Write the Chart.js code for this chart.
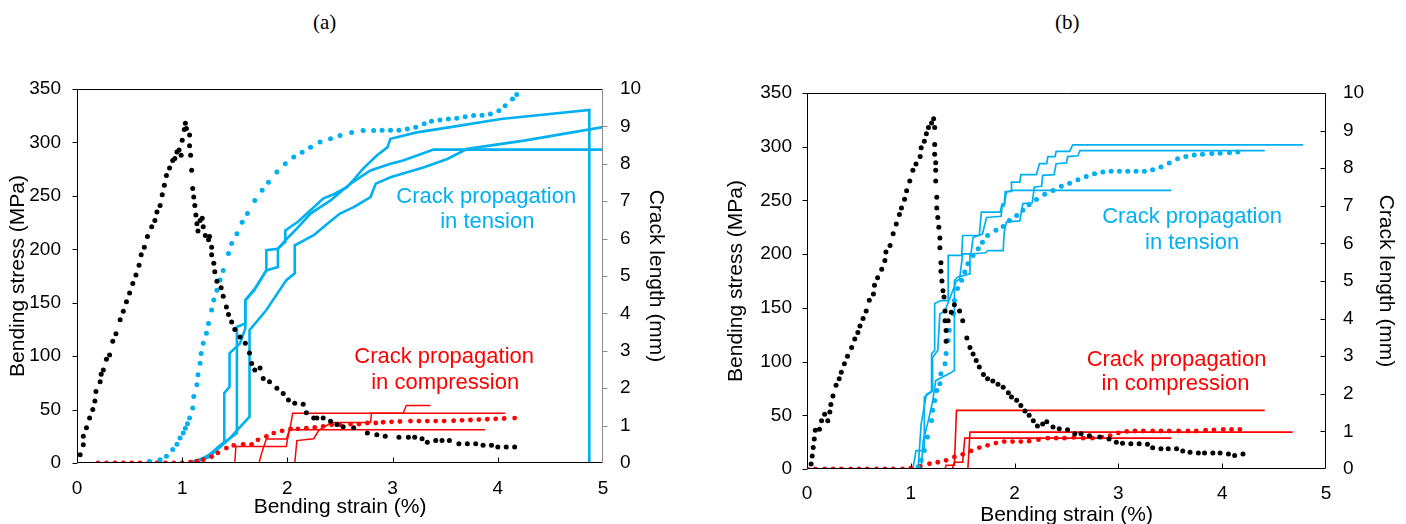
<!DOCTYPE html>
<html>
<head>
<meta charset="utf-8">
<script src="https://cdn.jsdelivr.net/npm/chart.js@4.4.0/dist/chart.umd.min.js"></script>
<style>
body { margin: 0; background: #fff; width: 1406px; height: 524px; overflow: hidden; position: relative; }
canvas { position: absolute; top: 0; }
#chartA { left: 0; }
#chartB { left: 703px; }
.panel { position: absolute; top: 10px; font: 21px "Liberation Serif", "Times New Roman", serif; line-height: 24px; }
</style>
</head>
<body>
<div class="panel" style="left:313px">(a)</div>
<div class="panel" style="left:1055px">(b)</div>
<canvas id="chartA" width="703" height="524"></canvas>
<canvas id="chartB" width="703" height="524"></canvas>
<script>
// ---- panel (a) ----  [strain %, value]
const aStress = [[0.03,7.8],[0.06,17],[0.06,25],[0.09,33],[0.12,42],[0.15,50],[0.17,58],[0.18,67],[0.22,76],[0.23,83],[0.25,87],[0.28,97],[0.31,101],[0.34,114],[0.37,121],[0.41,134],[0.44,142],[0.47,151],[0.50,159],[0.53,168],[0.56,176],[0.59,185],[0.61,195],[0.64,202],[0.67,212],[0.71,221],[0.74,227],[0.76,235],[0.79,241],[0.81,251],[0.83,260],[0.85,269],[0.88,276],[0.91,283],[0.93,285],[0.95,291],[0.97,293],[0.99,288],[1.00,302],[1.02,312],[1.03,318],[1.04,313],[1.07,307],[1.07,297],[1.08,288],[1.09,274],[1.10,257],[1.11,249],[1.12,241],[1.13,232],[1.14,224],[1.15,217],[1.17,227],[1.19,229],[1.20,221],[1.22,213],[1.25,209],[1.26,212],[1.28,202],[1.28,195],[1.30,187],[1.31,179],[1.33,170],[1.37,164],[1.39,156],[1.42,146],[1.44,139],[1.47,132],[1.50,125],[1.55,118],[1.60,112],[1.64,103],[1.66,93],[1.69,87],[1.74,89],[1.77,79],[1.83,76],[1.90,70],[1.96,65],[2.01,59],[2.07,56],[2.15,55],[2.18,47],[2.25,42],[2.28,42],[2.34,42],[2.41,39],[2.47,36],[2.53,34],[2.63,33],[2.76,28],[2.85,26.5],[2.93,25],[3.06,24],[3.15,24],[3.21,24],[3.28,22.6],[3.33,19.5],[3.41,21],[3.47,21],[3.54,21],[3.63,18],[3.71,18],[3.79,18],[3.86,16.5],[3.94,16.5],[4.00,15],[4.08,15],[4.16,15]];
const aCrackTensionAvg = [[0.69,0.04],[0.79,0.09],[0.85,0.18],[0.91,0.36],[0.95,0.5],[0.98,0.67],[1.01,0.8],[1.03,0.93],[1.05,1.05],[1.07,1.2],[1.10,1.47],[1.11,1.78],[1.14,2.09],[1.15,2.36],[1.17,2.67],[1.18,2.93],[1.20,3.2],[1.23,3.47],[1.25,3.73],[1.28,4.09],[1.30,4.36],[1.33,4.62],[1.36,4.89],[1.39,5.15],[1.44,5.6],[1.47,5.87],[1.52,6.13],[1.57,6.44],[1.62,6.67],[1.69,7.02],[1.76,7.29],[1.82,7.51],[1.90,7.78],[1.98,8.0],[2.06,8.18],[2.14,8.31],[2.22,8.44],[2.31,8.58],[2.41,8.67],[2.50,8.76],[2.61,8.84],[2.72,8.89],[2.82,8.89],[2.90,8.9],[2.98,8.9],[3.06,8.9],[3.14,8.93],[3.22,8.98],[3.30,9.07],[3.37,9.14],[3.45,9.17],[3.53,9.2],[3.61,9.22],[3.69,9.26],[3.77,9.29],[3.85,9.3],[3.93,9.33],[4.01,9.42],[4.07,9.55],[4.14,9.73],[4.18,9.85]];
const aCrackCompAvg = [[0.2,0],[0.28,0],[0.36,0],[0.44,0],[0.52,0],[0.6,0],[0.68,0],[0.76,0],[0.84,0],[0.92,0],[1.0,0],[1.08,0.02],[1.14,0.05],[1.2,0.09],[1.28,0.17],[1.34,0.27],[1.42,0.4],[1.49,0.47],[1.58,0.5],[1.66,0.5],[1.72,0.62],[1.80,0.71],[1.87,0.8],[1.95,0.86],[2.03,0.91],[2.10,0.91],[2.18,0.93],[2.26,0.95],[2.34,0.98],[2.42,1.02],[2.50,1.02],[2.60,1.04],[2.68,1.04],[2.76,1.07],[2.84,1.07],[2.91,1.09],[2.99,1.1],[3.07,1.11],[3.17,1.12],[3.25,1.12],[3.33,1.12],[3.41,1.12],[3.49,1.12],[3.58,1.13],[3.66,1.14],[3.74,1.15],[3.82,1.16],[3.90,1.17],[3.98,1.18],[4.06,1.19],[4.16,1.2]];
const aTension1 = [[1.05,0],[1.2,0.12],[1.3,0.3],[1.38,0.5],[1.40,0.55],[1.40,1.87],[1.45,2.04],[1.45,2.93],[1.55,3.2],[1.60,3.6],[1.60,4.35],[1.70,4.7],[1.80,5.15],[1.80,5.69],[1.91,5.73],[1.98,5.91],[1.98,6.22],[2.1,6.45],[2.22,6.76],[2.34,7.07],[2.45,7.2],[2.57,7.38],[2.72,7.87],[2.85,8.22],[2.95,8.44],[2.98,8.67],[3.23,8.84],[3.55,8.98],[4.03,9.2],[4.87,9.44],[4.87,0]];
const aTension2 = [[1.1,0],[1.25,0.2],[1.35,0.45],[1.52,0.8],[1.52,3.64],[1.60,3.73],[1.60,4.35],[1.68,4.6],[1.80,5.15],[1.91,5.24],[1.91,5.73],[1.98,5.95],[2.1,6.3],[2.22,6.67],[2.41,7.02],[2.60,7.47],[2.79,7.82],[2.98,8.0],[3.1,8.09],[3.39,8.38],[5.0,8.38]];
const aTension3 = [[1.1,0],[1.25,0.15],[1.35,0.4],[1.45,0.65],[1.64,1.24],[1.64,3.55],[1.80,4.09],[1.99,4.89],[2.07,5.07],[2.07,5.82],[2.25,6.09],[2.38,6.4],[2.50,6.67],[2.63,6.84],[2.79,7.11],[2.84,7.47],[2.98,7.64],[3.30,7.91],[3.52,8.13],[3.71,8.4],[4.25,8.62],[5.0,8.98]];
const aComp1 = [[1.15,0],[1.50,0],[1.51,0.44],[1.99,0.44],[2.0,0.62],[2.03,1.0],[2.05,1.33],[4.07,1.33]];
const aComp2 = [[1.3,0],[1.73,0],[1.76,0.31],[1.80,0.64],[1.99,0.64],[2.02,0.89],[3.88,0.89]];
const aComp3 = [[1.5,0],[2.07,0],[2.09,0.6],[2.25,0.65],[2.30,0.88],[2.42,1.08],[2.79,1.08],[2.80,1.33],[3.10,1.33],[3.13,1.54],[3.36,1.54]];

// ---- panel (b) ----
const bStress = [[0.04,4.7],[0.05,12],[0.06,20],[0.07,28],[0.08,36],[0.12,37],[0.14,45],[0.17,51],[0.20,45],[0.22,53],[0.23,60],[0.25,68],[0.28,78],[0.31,84],[0.33,90],[0.36,98],[0.39,105],[0.43,113],[0.46,121],[0.49,127],[0.51,133],[0.54,140],[0.57,147],[0.60,157],[0.64,163],[0.65,171],[0.68,178],[0.72,186],[0.75,194],[0.76,202],[0.80,208],[0.83,219],[0.86,228],[0.89,237],[0.91,243],[0.94,251],[0.96,259],[0.99,268],[1.02,278],[1.05,284],[1.09,291],[1.10,299],[1.13,305],[1.15,312],[1.17,318],[1.20,322],[1.22,326],[1.23,318],[1.23,302],[1.23,293],[1.24,285],[1.24,278],[1.24,268],[1.25,253],[1.25,243],[1.26,234],[1.27,225],[1.28,215],[1.28,206],[1.29,192],[1.29,184],[1.30,175],[1.31,166],[1.32,160],[1.33,147],[1.33,138],[1.34,129],[1.34,119],[1.36,138],[1.39,146],[1.42,153],[1.47,147],[1.50,138],[1.54,122],[1.57,113],[1.60,107],[1.63,101],[1.66,95],[1.70,88],[1.74,84],[1.79,82],[1.84,79],[1.89,76],[1.94,71],[1.97,67],[2.02,64],[2.06,59],[2.10,54],[2.14,50],[2.18,45],[2.22,40],[2.27,42],[2.31,44],[2.37,39],[2.43,37.5],[2.51,36.5],[2.58,32.8],[2.64,32.8],[2.72,31],[2.82,29.7],[2.91,28],[2.98,25],[3.04,24],[3.12,23.5],[3.20,23.5],[3.28,23],[3.33,19.7],[3.41,18.8],[3.48,18.8],[3.56,18.8],[3.62,16.7],[3.69,15.7],[3.77,15],[3.83,15],[3.91,15],[3.98,15],[4.06,14],[4.12,12.6],[4.20,14]];
const bCrackTensionAvg = [[1.07,0.05],[1.10,0.23],[1.13,0.49],[1.16,0.85],[1.20,1.29],[1.21,1.56],[1.23,1.82],[1.25,2.09],[1.28,2.27],[1.29,2.53],[1.33,2.8],[1.34,3.07],[1.36,3.42],[1.37,3.69],[1.41,4.13],[1.42,4.48],[1.45,4.8],[1.49,5.02],[1.52,5.24],[1.55,5.46],[1.60,5.68],[1.65,5.86],[1.69,6.03],[1.74,6.21],[1.82,6.35],[1.89,6.45],[1.95,6.61],[2.02,6.74],[2.08,6.88],[2.14,7.03],[2.21,7.17],[2.29,7.31],[2.37,7.41],[2.45,7.52],[2.53,7.6],[2.61,7.69],[2.69,7.78],[2.77,7.85],[2.85,7.9],[2.93,7.92],[3.01,7.92],[3.09,7.92],[3.17,7.92],[3.25,7.92],[3.33,7.96],[3.41,8.03],[3.49,8.14],[3.57,8.25],[3.65,8.31],[3.73,8.35],[3.81,8.37],[3.90,8.39],[3.98,8.4],[4.07,8.41],[4.15,8.43]];
const bCrackCompAvg = [[0,0],[0.08,0],[0.17,0],[0.25,0],[0.33,0],[0.42,0],[0.5,0],[0.58,0],[0.67,0],[0.75,0],[0.83,0],[0.92,0],[1.0,0.02],[1.09,0.07],[1.18,0.14],[1.26,0.18],[1.34,0.23],[1.42,0.32],[1.50,0.39],[1.58,0.48],[1.66,0.57],[1.74,0.63],[1.82,0.69],[1.90,0.73],[1.98,0.73],[2.06,0.73],[2.14,0.74],[2.23,0.78],[2.32,0.82],[2.40,0.82],[2.48,0.82],[2.57,0.84],[2.66,0.82],[2.75,0.82],[2.84,0.85],[2.92,0.89],[3.0,0.96],[3.08,1.0],[3.16,1.01],[3.24,1.01],[3.33,1.01],[3.41,1.01],[3.49,1.01],[3.58,1.01],[3.67,1.01],[3.75,1.01],[3.84,1.03],[3.92,1.04],[4.01,1.05],[4.09,1.05],[4.17,1.05]];
const bTension1 = [[1.02,0],[1.05,0.49],[1.13,0.49],[1.13,1.91],[1.20,2.05],[1.20,3.07],[1.23,3.15],[1.23,4.4],[1.29,4.48],[1.36,4.48],[1.36,5.68],[1.49,5.68],[1.50,6.21],[1.66,6.21],[1.68,6.83],[1.86,6.83],[1.88,7.05],[1.90,7.05],[1.91,7.38],[1.97,7.38],[1.97,7.63],[2.05,7.63],[2.06,7.83],[2.21,7.83],[2.24,8.12],[2.31,8.12],[2.32,8.31],[2.39,8.31],[2.40,8.45],[2.53,8.45],[2.56,8.62],[4.78,8.62]];
const bTension2 = [[1.07,0],[1.10,1.2],[1.15,1.99],[1.21,2.08],[1.21,2.97],[1.26,3.15],[1.28,4.12],[1.33,4.21],[1.44,5.0],[1.47,5.05],[1.50,5.72],[1.58,5.72],[1.60,6.16],[1.69,6.25],[1.73,6.69],[1.87,6.72],[1.88,7.0],[1.90,7.0],[1.92,7.36],[1.98,7.41],[3.51,7.41]];
const bTension3 = [[1.10,0],[1.12,0.76],[1.17,1.3],[1.21,1.8],[1.24,2.35],[1.38,2.55],[1.42,2.62],[1.42,5.01],[1.45,5.1],[1.57,5.19],[1.57,5.72],[1.72,5.75],[1.74,5.81],[1.89,5.81],[1.90,6.3],[1.92,6.57],[2.05,6.6],[2.08,7.06],[2.17,7.08],[2.19,7.5],[2.26,7.52],[2.27,7.81],[2.38,7.83],[2.40,8.12],[2.50,8.14],[2.51,8.31],[2.61,8.33],[2.63,8.47],[4.41,8.47]];
const bComp1 = [[1.0,0],[1.33,0],[1.34,0.1],[1.42,0.1],[1.44,1.56],[4.41,1.56]];
const bComp2 = [[1.2,0],[1.55,0],[1.57,0.98],[4.68,0.98]];
const bComp3 = [[1.4,0],[1.42,0.18],[1.50,0.18],[1.52,0.82],[3.51,0.82]];

const xTicks = [0, 1, 2, 3, 4, 5];
const stressTicks = [0, 50, 100, 150, 200, 250, 300, 350];
const crackTicks = [0, 1, 2, 3, 4, 5, 6, 7, 8, 9, 10];

const BLUE = '#00b0f0';
const RED = '#ff0000';

Chart.defaults.font.family = '"Liberation Sans", Arial, sans-serif';
Chart.defaults.color = '#000';

const pts = arr => arr.map(p => ({ x: p[0], y: p[1] }));

function dots(arr, color, axis, r, order) {
    return { data: pts(arr), yAxisID: axis, showLine: false, pointRadius: r, pointBorderWidth: 0,
        pointBackgroundColor: color, pointHoverRadius: r, order: order };
}
function line(arr, color, w) {
    return { data: pts(arr), yAxisID: 'y2', showLine: true, borderColor: color, borderWidth: w,
        pointRadius: 0, fill: false, tension: 0, order: 2 };
}

// frame, small tick marks and the two notes
const framePlugin = {
    id: 'frame',
    afterDatasetsDraw(chart, args, o) {
        const { ctx, chartArea: a, scales } = chart;
        ctx.save();
        ctx.lineWidth = 1;
        const L = Math.round(a.left) + 0.5, R = Math.round(a.right) - 0.5;
        const T = Math.round(a.top) + 0.5, B = Math.round(a.bottom) - 0.5;
        ctx.strokeStyle = '#000';
        ctx.beginPath();
        ctx.moveTo(R, B); ctx.lineTo(L, B); ctx.lineTo(L, T); ctx.lineTo(R, T);
        ctx.stroke();
        ctx.strokeStyle = o.rightColor;
        ctx.beginPath(); ctx.moveTo(R, T); ctx.lineTo(R, B); ctx.stroke();

        ctx.beginPath();
        ctx.strokeStyle = '#000';
        stressTicks.forEach(v => {
            const y = Math.round(scales.y.getPixelForValue(v)) + 0.5;
            ctx.moveTo(L - 5, y); ctx.lineTo(L, y);
        });
        xTicks.slice(1, -1).forEach(v => {
            const x = Math.round(scales.x.getPixelForValue(v)) + 0.5;
            ctx.moveTo(x, B); ctx.lineTo(x, B - 5);
        });
        ctx.stroke();
        ctx.beginPath();
        ctx.strokeStyle = o.rightColor;
        crackTicks.slice(1, -1).forEach(v => {
            const y = Math.round(scales.y2.getPixelForValue(v)) + 0.5;
            ctx.moveTo(R, y); ctx.lineTo(o.rightTicksIn ? R - 5 : R + 5, y);
        });
        ctx.stroke();

        ctx.font = '22px "Liberation Sans", Arial, sans-serif';
        ctx.textAlign = 'center';
        ctx.textBaseline = 'middle';
        o.notes.forEach(n => {
            ctx.fillStyle = n.color;
            ctx.fillText(n.text, scales.x.getPixelForValue(n.x), scales.y2.getPixelForValue(n.y));
        });
        ctx.restore();
    }
};

function makeChart(id, d, lay) {
    const ctx = document.getElementById(id).getContext('2d');
    // eslint-disable-next-line no-undef
    return new Chart(ctx, {
        type: 'scatter',
        data: { datasets: d.sets },
        options: {
            responsive: false,
            animation: false,
            devicePixelRatio: 1,
            layout: { padding: { top: lay.top, left: 0, right: 0, bottom: 0 } },
            plugins: {
                legend: { display: false },
                tooltip: { enabled: false },
                frame: { rightColor: lay.rightColor, rightTicksIn: lay.rightTicksIn, notes: d.notes }
            },
            scales: {
                x: {
                    type: 'linear', min: 0, max: 5,
                    afterBuildTicks: s => { s.ticks = xTicks.map(v => ({ value: v })); },
                    ticks: { font: { size: 19 }, padding: lay.xPad, maxRotation: 0 },
                    grid: { display: false, drawTicks: false }, border: { display: false },
                    title: { display: true, text: 'Bending strain (%)', font: { size: 21 }, padding: { top: 0, bottom: lay.xTitlePad } },
                    afterFit: s => { s.height = lay.xH; }
                },
                y: {
                    type: 'linear', position: 'left', min: 0, max: 350,
                    afterBuildTicks: s => { s.ticks = stressTicks.map(v => ({ value: v })); },
                    ticks: { font: { size: 19 }, padding: lay.yPad },
                    grid: { display: false, drawTicks: false }, border: { display: false },
                    title: { display: true, text: 'Bending stress (MPa)', font: { size: 21 }, padding: { top: lay.yTitlePad, bottom: 0 } },
                    afterFit: s => { s.width = lay.yW; }
                },
                y2: {
                    type: 'linear', position: 'right', min: 0, max: 10,
                    afterBuildTicks: s => { s.ticks = crackTicks.map(v => ({ value: v })); },
                    ticks: { font: { size: 19 }, padding: lay.y2Pad },
                    grid: { display: false, drawTicks: false }, border: { display: false },
                    title: { display: true, text: 'Crack length (mm)', font: { size: 21 }, padding: { top: lay.y2TitlePad, bottom: 0 } },
                    afterFit: s => { s.width = lay.y2W; }
                }
            }
        },
        plugins: [framePlugin]
    });
}

makeChart('chartA', {
    sets: [
        dots(aStress, '#000', 'y', 2.5, 0),
        dots(aCrackTensionAvg, BLUE, 'y2', 2.5, 1),
        dots(aCrackCompAvg, RED, 'y2', 2.4, 1),
        line(aTension1, BLUE, 2.6),
        line(aTension2, BLUE, 2.6),
        line(aTension3, BLUE, 2.6),
        line(aComp1, RED, 1.5),
        line(aComp2, RED, 1.5),
        line(aComp3, RED, 1.5)
    ],
    notes: [
        { text: 'Crack propagation', x: 3.89, y: 7.11, color: BLUE },
        { text: 'in tension', x: 3.9, y: 6.44, color: BLUE },
        { text: 'Crack propagation', x: 3.49, y: 2.84, color: RED },
        { text: 'in compression', x: 3.5, y: 2.15, color: RED }
    ]
}, { top: 89, xH: 61, yW: 77, y2W: 100, xPad: 14, xTitlePad: 4, yPad: 16, yTitlePad: 6, y2Pad: 17, y2TitlePad: 35, rightColor: '#8c8c8c', rightTicksIn: false });

makeChart('chartB', {
    sets: [
        dots(bStress, '#000', 'y', 2.5, 0),
        dots(bCrackTensionAvg, BLUE, 'y2', 2.5, 1),
        dots(bCrackCompAvg, RED, 'y2', 2.4, 1),
        line(bTension1, BLUE, 1.7),
        line(bTension2, BLUE, 1.7),
        line(bTension3, BLUE, 1.7),
        line(bComp1, RED, 1.6),
        line(bComp2, RED, 1.6),
        line(bComp3, RED, 1.6)
    ],
    notes: [
        { text: 'Crack propagation', x: 3.71, y: 6.70, color: BLUE },
        { text: 'in tension', x: 3.71, y: 6.01, color: BLUE },
        { text: 'Crack propagation', x: 3.56, y: 2.91, color: RED },
        { text: 'in compression', x: 3.55, y: 2.25, color: RED }
    ]
}, { top: 93, xH: 55, yW: 104, y2W: 80, xPad: 13, xTitlePad: -4, yPad: 15, yTitlePad: 21, y2Pad: 17, y2TitlePad: 8, rightColor: '#000', rightTicksIn: true });
</script>
</body>
</html>
